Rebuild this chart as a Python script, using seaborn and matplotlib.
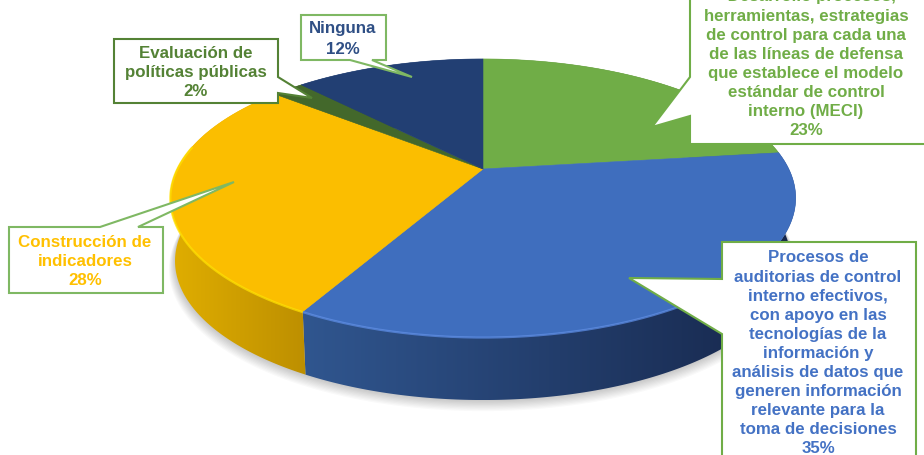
import numpy as np
import matplotlib
matplotlib.use("Agg")
import matplotlib.pyplot as plt
from matplotlib.colors import LinearSegmentedColormap
from matplotlib.patches import Polygon
import seaborn as sns

# ---- data ----
categories = ["Desarrollo procesos", "Procesos de auditorias", "Construcción de indicadores",
              "Evaluación de políticas públicas", "Ninguna"]
values = [23, 35, 28, 2, 12]
slice_colors = ["#70AD47", "#3F6EBE", "#FBBE00", "#43682B", "#223F73"]
label_colors = ["#70AD47", "#4472C4", "#FFC000", "#548235", "#2F4F85"]
border_colors = ["#70AD47", "#70AD47", "#7FB863", "#548235", "#7FB863"]
side_left = ["#4F7A32", "#30568F", "#E0AE00", "#43682B", "#223F73"]
side_right = ["#3F6128", "#16264A", "#BD8F00", "#43682B", "#223F73"]
rim_colors = [None, "#5C8CE4", "#FFDF00", None, None]
label_lines = [
    ["• Desarrollo procesos,", "herramientas, estrategias", "de control para cada una",
     "de las líneas de defensa", "que establece el modelo", "estándar de control", "interno (MECI)"],
    ["Procesos de", "auditorias de control", "interno efectivos,", "con apoyo en las",
     "tecnologías de la", "información y", "análisis de datos que", "generen información",
     "relevante para la", "toma de decisiones"],
    ["Construcción de", "indicadores"],
    ["Evaluación de", "políticas públicas"],
    ["Ninguna"],
]

# ---- layout (pixels) ----
W, H = 924, 456
CX, CY = 483, 170
K, AY, BX = 0.2085, 133, 305.8
DEPTH = 63
BOTTOM_SCALE = 0.985
text_x = [806, 818, 85, 196, 343]
text_y0 = [-3, 258, 243, 53, 29]
text_step = [19.1, 19.1, 19.0, 19.5, 20]
boxes = [
    [(690, -10), (690, 78), (652, 128), (690, 117), (690, 145), (930, 145), (930, -10)],
    [(722, 243), (722, 280), (629, 279), (722, 335), (722, 470), (916, 470), (916, 243)],
    [(9, 228), (100, 228), (234, 183), (138, 228), (163, 228), (163, 294), (9, 294)],
    [(114, 40), (278, 40), (278, 78), (312, 99), (278, 94), (278, 104), (114, 104)],
    [(301, 16), (386, 16), (386, 61), (372, 61), (412, 78), (350, 61), (301, 61)],
]

sns.set_theme(style="white")
palette = sns.color_palette(slice_colors)
plt.rcParams["font.family"] = ["Liberation Sans", "DejaVu Sans"]

fig = plt.figure(figsize=(W / 100, H / 100), dpi=100)
ax = fig.add_axes([0, 0, 1, 1])
wedges, _ = ax.pie(values, colors=palette, startangle=90, counterclock=False)


def project(x, y):
    w = 1 + K * y
    return CX + BX * x / w, CY - AY * y / w


def arc(t1, t2, n=200):
    t = np.radians(np.linspace(t1, t2, n))
    return np.column_stack(project(np.cos(t), np.sin(t)))


def lower(pts):
    out = pts + [0, DEPTH]
    out[:, 0] = CX + (out[:, 0] - CX) * BOTTOM_SCALE
    return out


# shadow below the disc
outline = lower(arc(0, 360, 400))
centre = outline.mean(axis=0)
for i in range(1, 10):
    ax.add_patch(Polygon(centre + (outline - centre) * (1 + i * 0.0022) + [0, i * 0.9],
                         closed=True, fc="black", ec="none", alpha=0.022, zorder=1))

# side walls
for w, cl, cr in zip(wedges, side_left, side_right):
    pts = arc(w.theta1, w.theta2)
    wall = np.vstack([pts, lower(pts)[::-1]])
    patch = Polygon(wall, closed=True, fc="none", ec="none", zorder=2)
    ax.add_patch(patch)
    x0, x1 = wall[:, 0].min(), wall[:, 0].max()
    y0, y1 = wall[:, 1].min(), wall[:, 1].max()
    cmap = LinearSegmentedColormap.from_list("wall", [cl, cr])
    im = ax.imshow(np.linspace(0, 1, 256)[None, :], cmap=cmap, extent=(x0, x1, y1, y0),
                   aspect="auto", zorder=2, interpolation="bilinear")
    im.set_clip_path(patch)

# top faces
for w, col in zip(wedges, palette):
    w.set_visible(False)
    pts = np.vstack([[project(0, 0)], arc(w.theta1, w.theta2)])
    ax.add_patch(Polygon(pts, closed=True, fc=col, ec=col, lw=0.4, zorder=3))

# bevel highlights on the near edge
for w, rim in zip(wedges, rim_colors):
    if rim is None:
        continue
    rim_pts = arc(max(w.theta1, -190), min(w.theta2, -45))
    ax.plot(rim_pts[:, 0], rim_pts[:, 1] + 0.5, color=rim, lw=1.6, alpha=0.75, zorder=4,
            solid_capstyle="butt")

# callouts
for pts, ec in zip(boxes, border_colors):
    ax.add_patch(Polygon(pts, closed=True, fc="white", ec=ec, lw=1.5, zorder=5, joinstyle="miter"))

for v, lines, col, x, y0, step in zip(values, label_lines, label_colors, text_x, text_y0, text_step):
    for i, line in enumerate(lines + [f"{v}%"]):
        ax.text(x, y0 + i * step, line, color=col, ha="center", va="center",
                fontsize=12.2, fontweight="bold", zorder=6)

ax.set_aspect("auto")
ax.set_xlim(0, W)
ax.set_ylim(H, 0)
ax.axis("off")
fig.savefig("out.png", dpi=100, facecolor="white")
